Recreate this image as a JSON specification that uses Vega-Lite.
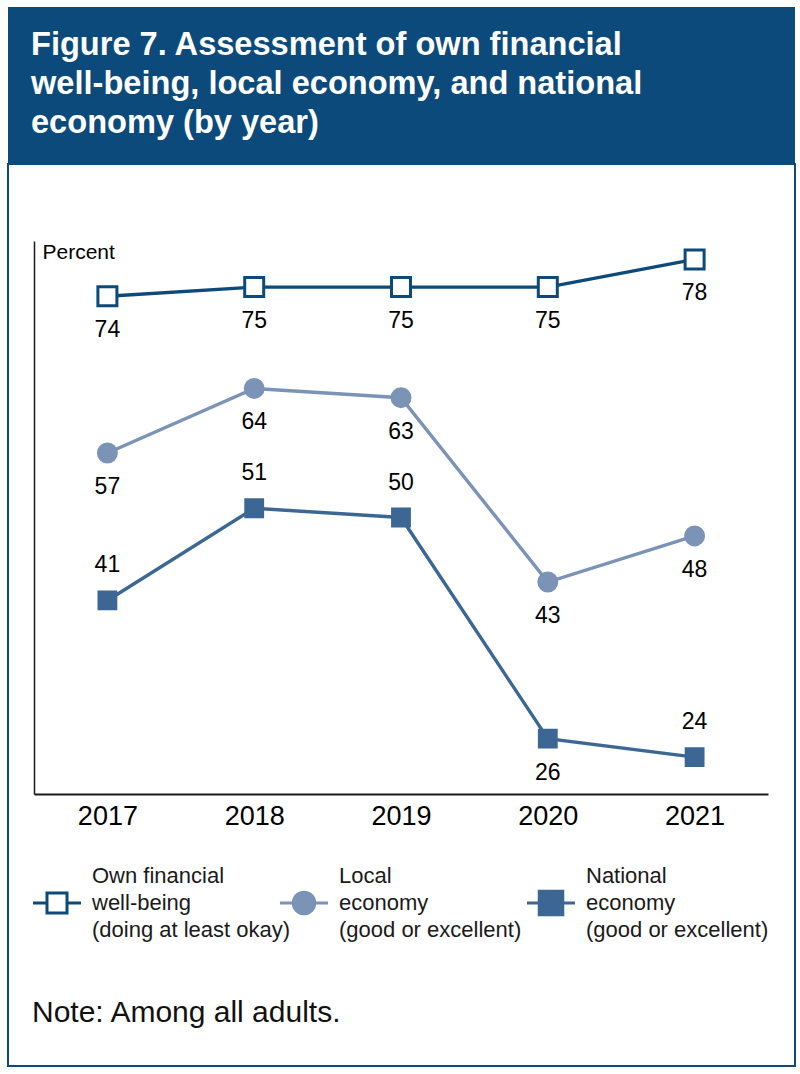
{
  "$schema": "https://vega.github.io/schema/vega-lite/v6.json",
  "padding": {"left": 7, "top": 7, "right": 6, "bottom": 9},
  "spacing": 0,
  "config": {"view": {"stroke": null}, "font": "Liberation Sans", "background": "white"},
  "datasets": {
    "titleLines": [
      {"line": 1, "text": "Figure 7. Assessment of own financial"},
      {"line": 2, "text": "well-being, local economy, and national"},
      {"line": 3, "text": "economy (by year)"}
    ],
    "main": [
      {"series": "Own", "year": "2017", "value": 74},
      {"series": "Own", "year": "2018", "value": 75},
      {"series": "Own", "year": "2019", "value": 75},
      {"series": "Own", "year": "2020", "value": 75},
      {"series": "Own", "year": "2021", "value": 78},
      {"series": "Local", "year": "2017", "value": 57},
      {"series": "Local", "year": "2018", "value": 64},
      {"series": "Local", "year": "2019", "value": 63},
      {"series": "Local", "year": "2020", "value": 43},
      {"series": "Local", "year": "2021", "value": 48},
      {"series": "National", "year": "2017", "value": 41},
      {"series": "National", "year": "2018", "value": 51},
      {"series": "National", "year": "2019", "value": 50},
      {"series": "National", "year": "2020", "value": 26},
      {"series": "National", "year": "2021", "value": 24}
    ],
    "legendSymbols": [
      {"series": "Own", "line": 2},
      {"series": "Local", "line": 2},
      {"series": "National", "line": 2}
    ],
    "legendText": [
      {"series": "Own", "line": 1, "text": "Own financial"},
      {"series": "Own", "line": 2, "text": "well-being"},
      {"series": "Own", "line": 3, "text": "(doing at least okay)"},
      {"series": "Local", "line": 1, "text": "Local"},
      {"series": "Local", "line": 2, "text": "economy"},
      {"series": "Local", "line": 3, "text": "(good or excellent)"},
      {"series": "National", "line": 1, "text": "National"},
      {"series": "National", "line": 2, "text": "economy"},
      {"series": "National", "line": 3, "text": "(good or excellent)"}
    ],
    "note": [{"text": "Note: Among all adults."}]
  },
  "vconcat": [
    {
      "width": 787,
      "height": 156,
      "view": {"fill": "#0b4a7a", "stroke": null},
      "data": {"name": "titleLines"},
      "mark": {"type": "text", "align": "left", "baseline": "alphabetic", "font": "Liberation Sans", "fontWeight": "bold", "fontSize": 32.6, "color": "white"},
      "encoding": {
        "x": {"field": "line", "type": "ordinal", "scale": {"range": [23, 23], "padding": 0}, "axis": null},
        "y": {"field": "line", "type": "ordinal", "scale": {"range": [48, 126], "padding": 0}, "axis": null},
        "text": {"field": "text"}
      }
    },
    {
      "width": 787,
      "height": 902,
      "view": {"fill": "white", "stroke": "#0b4a7a", "strokeWidth": 2},
      "resolve": {"scale": {"x": "independent", "y": "independent", "color": "independent", "fill": "independent", "stroke": "independent", "shape": "independent", "size": "independent"}},
      "layer": [
        {
          "data": {"name": "main"},
          "encoding": {
            "x": {"field": "year", "type": "ordinal", "scale": {"range": [26, 760], "padding": 0.5},
              "axis": {"orient": "bottom", "offset": -272, "title": null, "domainColor": "#1a1a1a", "domainWidth": 2, "ticks": false, "tickSize": 0, "labelFontSize": 27, "labelColor": "black", "labelPadding": 9, "labelFont": "Liberation Sans", "grid": false, "labelAngle": 0}},
            "y": {"field": "value", "type": "quantitative", "scale": {"domain": [20, 80], "range": [630, 77], "nice": false, "zero": false},
              "axis": {"orient": "left", "offset": -26, "domainColor": "#1a1a1a", "domainWidth": 1.5, "ticks": false, "labels": false, "grid": false, "title": "Percent", "titleAngle": 0, "titleAlign": "left", "titleBaseline": "alphabetic", "titleX": 8, "titleY": 94, "titleFontSize": 21, "titleFontWeight": "normal", "titleColor": "black", "titleFont": "Liberation Sans"}}
          },
          "layer": [
            {
              "mark": {"type": "line", "strokeWidth": 3.4},
              "encoding": {
                "color": {"field": "series", "type": "nominal", "scale": {"domain": ["Own", "Local", "National"], "range": ["#0d4a79", "#7b93b7", "#3c6694"]}, "legend": null}
              }
            },
            {
              "mark": {"type": "point", "strokeWidth": 3, "opacity": 1, "fillOpacity": 1, "strokeOpacity": 1},
              "encoding": {
                "shape": {"field": "series", "type": "nominal", "scale": {"domain": ["Own", "Local", "National"], "range": ["square", "circle", "square"]}, "legend": null},
                "fill": {"field": "series", "type": "nominal", "scale": {"domain": ["Own", "Local", "National"], "range": ["white", "#7b93b7", "#3c6694"]}, "legend": null},
                "stroke": {"field": "series", "type": "nominal", "scale": {"domain": ["Own", "Local", "National"], "range": ["#0d4a79", "#7b93b7", "#3c6694"]}, "legend": null},
                "size": {"field": "series", "type": "nominal", "scale": {"domain": ["Own", "Local", "National"], "range": [361, 283, 484]}, "legend": null}
              }
            },
            {
              "transform": [{"filter": "datum.series == 'National' && datum.year != '2020'"}],
              "mark": {"type": "text", "dy": -35, "fontSize": 23, "baseline": "middle", "font": "Liberation Sans", "color": "black"},
              "encoding": {"text": {"field": "value", "type": "quantitative"}}
            },
            {
              "transform": [{"filter": "!(datum.series == 'National' && datum.year != '2020')"}],
              "mark": {"type": "text", "dy": 34, "fontSize": 23, "baseline": "middle", "font": "Liberation Sans", "color": "black"},
              "encoding": {"text": {"field": "value", "type": "quantitative"}}
            }
          ]
        },
        {
          "data": {"name": "legendSymbols"},
          "encoding": {
            "x": {"field": "series", "type": "ordinal", "scale": {"domain": ["Own", "Local", "National"], "range": [49, 543], "padding": 0}, "axis": null},
            "y": {"field": "line", "type": "ordinal", "scale": {"domain": [1, 2, 3], "range": [712, 766], "padding": 0}, "axis": null}
          },
          "layer": [
            {
              "transform": [{"filter": "datum.series == 'Own'"}],
              "mark": {"type": "point", "size": 2304, "shape": "M-1,0H-0.417M0.417,0H1M-0.417,-0.417H0.417V0.417H-0.417Z", "fill": "white", "stroke": "#0d4a79", "strokeWidth": 3, "opacity": 1, "fillOpacity": 1}
            },
            {
              "transform": [{"filter": "datum.series == 'Local'"}],
              "mark": {"type": "point", "size": 2304, "shape": "M-1,0H1M0.45,0A0.45,0.45,0,1,1,-0.45,0A0.45,0.45,0,1,1,0.45,0Z", "fill": "#7b93b7", "stroke": "#7b93b7", "strokeWidth": 3, "opacity": 1, "fillOpacity": 1}
            },
            {
              "transform": [{"filter": "datum.series == 'National'"}],
              "mark": {"type": "point", "size": 2304, "shape": "M-1,0H1M-0.49,-0.49H0.49V0.49H-0.49Z", "fill": "#3c6694", "stroke": "#3c6694", "strokeWidth": 3, "opacity": 1, "fillOpacity": 1}
            }
          ]
        },
        {
          "data": {"name": "legendText"},
          "mark": {"type": "text", "align": "left", "baseline": "middle", "fontSize": 22, "font": "Liberation Sans", "color": "#1a1a1a"},
          "encoding": {
            "x": {"field": "series", "type": "ordinal", "scale": {"domain": ["Own", "Local", "National"], "range": [84, 578], "padding": 0}, "axis": null},
            "y": {"field": "line", "type": "ordinal", "scale": {"domain": [1, 2, 3], "range": [712, 766], "padding": 0}, "axis": null},
            "text": {"field": "text"}
          }
        },
        {
          "data": {"name": "note"},
          "mark": {"type": "text", "align": "left", "baseline": "alphabetic", "fontSize": 30, "font": "Liberation Sans", "color": "#111"},
          "encoding": {
            "x": {"field": "text", "type": "nominal", "scale": {"range": [24, 24], "padding": 0}, "axis": null},
            "y": {"field": "text", "type": "nominal", "scale": {"range": [858, 858], "padding": 0}, "axis": null},
            "text": {"field": "text"}
          }
        }
      ]
    }
  ]
}
